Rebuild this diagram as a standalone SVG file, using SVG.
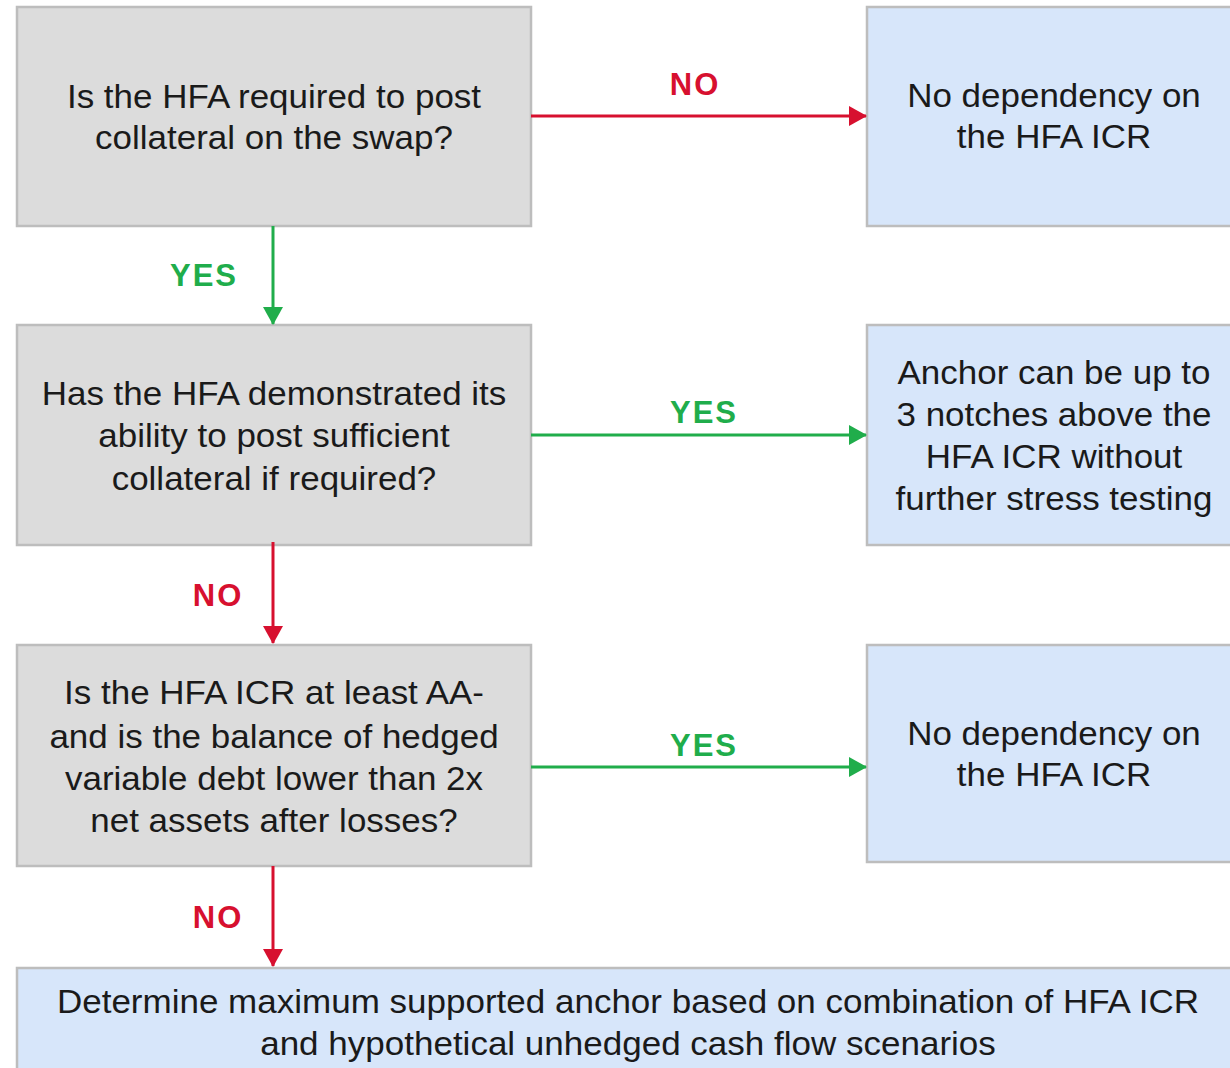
<svg xmlns="http://www.w3.org/2000/svg" width="1230" height="1068" viewBox="0 0 1230 1068">
<defs>
<style>
.q{fill:#dcdcdc;stroke:#bdbdbd;stroke-width:2.5}
.a{fill:#d7e6fa;stroke:#bdbdbd;stroke-width:2.5}
.t{font-family:"Liberation Sans",Arial,sans-serif;font-size:33px;fill:#1a1a1a;text-anchor:middle}
.b{font-size:34px}
.lr{font-family:"Liberation Sans",Arial,sans-serif;font-size:31px;font-weight:bold;letter-spacing:2px;fill:#d7102f;text-anchor:middle}
.lg{font-family:"Liberation Sans",Arial,sans-serif;font-size:31px;font-weight:bold;letter-spacing:2px;fill:#20ad4b;text-anchor:middle}
.cr{stroke:#d7102f;stroke-width:3;fill:none}
.cg{stroke:#20ad4b;stroke-width:3;fill:none}
</style>
<marker id="mr2" markerWidth="18" markerHeight="20" refX="17" refY="10" orient="auto" markerUnits="userSpaceOnUse" viewBox="0 0 18 20"><path d="M0,0 L18,10 L0,20 z" fill="#d7102f"/></marker>
<marker id="mg2" markerWidth="18" markerHeight="20" refX="17" refY="10" orient="auto" markerUnits="userSpaceOnUse" viewBox="0 0 18 20"><path d="M0,0 L18,10 L0,20 z" fill="#20ad4b"/></marker>
</defs>
<rect width="1230" height="1068" fill="#ffffff"/>
<g id="q1"><rect class="q" x="17" y="7" width="514" height="219"/>
<g transform="matrix(1.06,0,0,1,-16.44,0)">
<text class="t" x="274" y="108">Is the HFA required to post</text>
<text class="t" x="274" y="149">collateral on the swap?</text></g></g>
<g id="r1"><rect class="a" x="867" y="7" width="380" height="219"/>
<g transform="matrix(1.06,0,0,1,-63.24,0)">
<text class="t" x="1054" y="107">No dependency on</text>
<text class="t" x="1054" y="148">the HFA ICR</text></g></g>
<g id="q2"><rect class="q" x="17" y="325" width="514" height="220"/>
<g transform="matrix(1.06,0,0,1,-16.44,0)">
<text class="t" x="274" y="405">Has the HFA demonstrated its</text>
<text class="t" x="274" y="447">ability to post sufficient</text>
<text class="t" x="274" y="490">collateral if required?</text></g></g>
<g id="r2"><rect class="a" x="867" y="325" width="380" height="220"/>
<g transform="matrix(1.06,0,0,1,-63.24,0)">
<text class="t" x="1054" y="384">Anchor can be up to</text>
<text class="t" x="1054" y="426">3 notches above the</text>
<text class="t" x="1054" y="468">HFA ICR without</text>
<text class="t" x="1054" y="510">further stress testing</text></g></g>
<g id="q3"><rect class="q" x="17" y="645" width="514" height="221"/>
<g transform="matrix(1.06,0,0,1,-16.44,0)">
<text class="t" x="274" y="704">Is the HFA ICR at least AA-</text>
<text class="t" x="274" y="748">and is the balance of hedged</text>
<text class="t" x="274" y="790">variable debt lower than 2x</text>
<text class="t" x="274" y="832">net assets after losses?</text></g></g>
<g id="r3"><rect class="a" x="867" y="645" width="380" height="217"/>
<g transform="matrix(1.06,0,0,1,-63.24,0)">
<text class="t" x="1054" y="745">No dependency on</text>
<text class="t" x="1054" y="786">the HFA ICR</text></g></g>
<g id="final"><rect class="a" x="17" y="968" width="1230" height="120"/>
<g transform="matrix(1.03,0,0,1,-18.84,0)">
<text class="t b" x="628" y="1013">Determine maximum supported anchor based on combination of HFA ICR</text>
<text class="t b" x="628" y="1055">and hypothetical unhedged cash flow scenarios</text></g></g>
<g id="connectors">
<line class="cr" x1="531" y1="116" x2="866" y2="116" marker-end="url(#mr2)"/>
<line class="cg" x1="273" y1="226" x2="273" y2="324" marker-end="url(#mg2)"/>
<line class="cg" x1="531" y1="435" x2="866" y2="435" marker-end="url(#mg2)"/>
<line class="cr" x1="273" y1="542" x2="273" y2="643" marker-end="url(#mr2)"/>
<line class="cg" x1="531" y1="767" x2="866" y2="767" marker-end="url(#mg2)"/>
<line class="cr" x1="273" y1="866" x2="273" y2="966" marker-end="url(#mr2)"/>
<text class="lr" x="695" y="95">NO</text>
<text class="lg" x="204" y="286">YES</text>
<text class="lg" x="704" y="423">YES</text>
<text class="lr" x="218" y="606">NO</text>
<text class="lg" x="704" y="756">YES</text>
<text class="lr" x="218" y="928">NO</text>
</g>
</svg>
